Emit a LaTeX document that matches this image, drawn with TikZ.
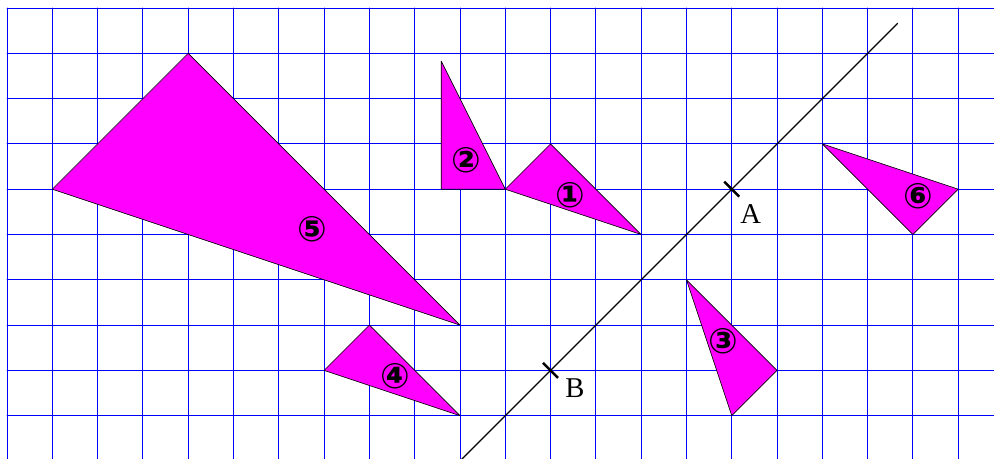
\documentclass[tikz,border=0pt]{standalone}
\usepackage{fontspec}
\setmainfont{Liberation Serif}
\newfontfamily\circfont{DejaVu Sans}
\definecolor{trifill}{RGB}{255,0,255}
\definecolor{gridblue}{RGB}{0,0,255}

\begin{document}
\begin{tikzpicture}[x=1cm,y=1cm,line cap=round,line join=round,
  tri/.style={fill=trifill,draw=black,line width=0.4pt},
  num/.style={font=\circfont\bfseries\fontsize{22}{24}\selectfont,inner sep=0pt},
  lbl/.style={font=\fontsize{18}{20}\selectfont,inner sep=0pt},
  tick/.style={draw=black,line width=1.6pt,line cap=butt}]
\useasboundingbox (-0.155,0.177) rectangle (21.79,-9.956);
\clip (-0.155,0.177) rectangle (21.79,-9.956);
\draw[gridblue,line width=0.6pt] (0,-9.956) grid (21.79,0);
\coordinate (A) at (16,-4);
\coordinate (B) at (12,-8);
\coordinate (e1) at (9.8,-10.2);
\coordinate (e2) at (19.66,-0.34);
\draw[tri] (11,-4) -- (12,-3) -- (14,-5) -- cycle;
\draw[tri] (11,-4) -- (9.586,-4) -- (9.586,-1.172) -- cycle;
\draw[tri] (15,-6) -- (17,-8) -- (16,-9) -- cycle;
\draw[tri] (7,-8) -- (8,-7) -- (10,-9) -- cycle;
\draw[tri] (1,-4) -- (4,-1) -- (10,-7) -- cycle;
\draw[tri] (18,-3) -- (21,-4) -- (20,-5) -- cycle;
\draw[line width=0.8pt] (e1) -- (e2);
\draw[tick] ([shift={(-0.166,0.166)}]A) -- ([shift={(0.166,-0.166)}]A);
\draw[tick] ([shift={(-0.166,0.166)}]B) -- ([shift={(0.166,-0.166)}]B);
\node[lbl] (labA) at ([shift={(0.42,-0.55)}]A) {A};
\node[lbl] (labB) at ([shift={(0.54,-0.39)}]B) {B};
\node[num] (n1) at (12.43,-4.13) {①};
\node[num] (n2) at (10.15,-3.36) {②};
\node[num] (n3) at (15.81,-7.35) {③};
\node[num] (n4) at (8.57,-8.12) {④};
\node[num] (n5) at (6.73,-4.88) {⑤};
\node[num] (n6) at (20.11,-4.15) {⑥};
\end{tikzpicture}
\end{document}
